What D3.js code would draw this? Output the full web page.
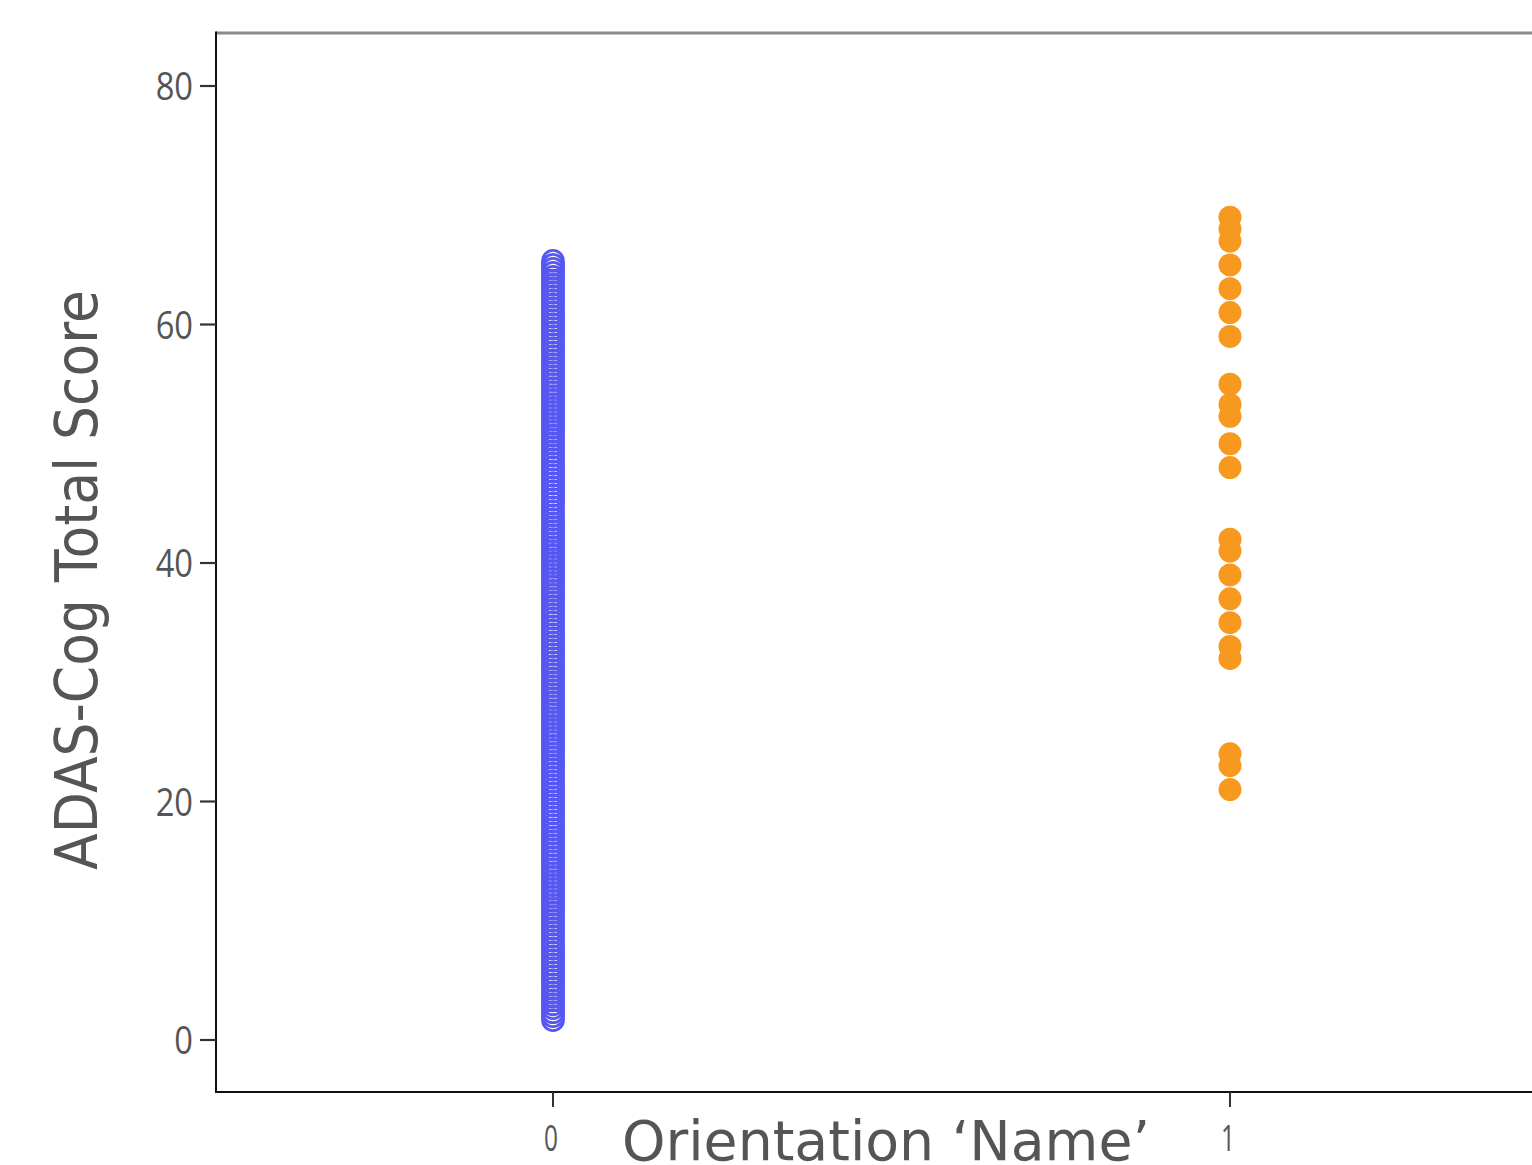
<!DOCTYPE html>
<html>
<head>
<meta charset="utf-8">
<script src="https://cdn.jsdelivr.net/npm/d3@7/dist/d3.min.js"></script>
<style>
  html, body { margin: 0; padding: 0; background: #fff; }
  svg { display: block; }
</style>
</head>
<body>
<svg id="chart" width="1532" height="1165"></svg>
<script>
// ---- data ----
const categories = [0, 1];
const xTickLabels = ["0", "1"];
const yTickValues = [0, 20, 40, 60, 80];
const yTickLabels = ["0", "20", "40", "60", "80"];
const xTitle = "Orientation \u2018Name\u2019";
const yTitle = "ADAS-Cog Total Score";

// group 0 (open circles)
const scoresGroup0 = [
  1.67,2,2.33,2.67,3,3.33,3.67,4,4.33,4.67,5,5.33,5.67,6,6.33,6.67,7,7.33,7.67,8,8.33,8.67,9,9.33,9.67,10,
  10.33,10.67,11,11.33,11.67,12,12.33,12.67,13,13.33,13.67,14,14.33,14.67,15,15.33,15.67,16,16.33,16.67,17,17.33,17.67,18,18.33,18.67,19,19.33,19.67,20,
  20.33,20.67,21,21.33,21.67,22,22.33,22.67,23,23.33,23.67,24,24.33,24.67,25,25.33,25.67,26,26.33,26.67,27,27.33,27.67,28,28.33,28.67,29,29.33,29.67,30,
  30.33,30.67,31,31.33,31.67,32,32.33,32.67,33,33.33,33.67,34,34.33,34.67,35,35.33,35.67,36,36.33,36.67,37,37.33,37.67,38,38.33,38.67,39,39.33,39.67,40,
  40.33,40.67,41,41.33,41.67,42,42.33,42.67,43,43.33,43.67,44,44.33,44.67,45,45.33,45.67,46,46.33,46.67,47,47.33,47.67,48,48.33,48.67,49,49.33,49.67,50,
  50.33,50.67,51,51.33,51.67,52,52.33,52.67,53,53.33,53.67,54,54.33,54.67,55,55.33,55.67,56,56.33,56.67,57,57.33,57.67,58,58.33,58.67,59,59.33,59.67,60,
  60.33,60.67,61,61.33,61.67,62,62.33,62.67,63,63.33,63.67,64,64.33,64.67,65,65.33
];
// group 1 (filled circles)
const scoresGroup1 = [69, 68, 67, 65, 63, 61, 59, 55, 53.3, 52.3, 50, 48, 42, 41, 39, 37, 35, 33, 32, 24, 23, 21];

// ---- layout ----
const svg = d3.select("#chart");
const frame = { left: 216, right: 1540, top: 33, bottom: 1092 };

const x = d3.scaleLinear().domain([-0.5, 1.5]).range([214.5, 1568.5]);
const y = d3.scaleLinear().domain([0, 80]).range([1040, 86]);

const textColor = "#555555";

// frame: top border (grey), left & bottom axes (black)
svg.append("line")
  .attr("x1", frame.left).attr("x2", frame.right)
  .attr("y1", frame.top).attr("y2", frame.top)
  .attr("stroke", "#8a8a8a").attr("stroke-width", 3);
svg.append("line")
  .attr("x1", frame.left).attr("x2", frame.left)
  .attr("y1", frame.top - 1.5).attr("y2", frame.bottom + 1)
  .attr("stroke", "#111").attr("stroke-width", 2);
svg.append("line")
  .attr("x1", frame.left - 1).attr("x2", frame.right)
  .attr("y1", frame.bottom).attr("y2", frame.bottom)
  .attr("stroke", "#111").attr("stroke-width", 2);

// y ticks
const yAxisG = svg.append("g");
yTickValues.forEach((v, i) => {
  yAxisG.append("line")
    .attr("x1", frame.left - 16).attr("x2", frame.left)
    .attr("y1", y(v)).attr("y2", y(v))
    .attr("stroke", "#333").attr("stroke-width", 2.2);
  yAxisG.append("text")
    .attr("transform", `translate(193,${y(v) + 14}) scale(0.86,1)`)
    .attr("text-anchor", "end")
    .attr("font-family", "'Open Sans', sans-serif")
    .attr("font-size", 38)
    .attr("fill", textColor)
    .text(yTickLabels[i]);
});

// x ticks
const xAxisG = svg.append("g");
categories.forEach((c, i) => {
  xAxisG.append("line")
    .attr("x1", x(c)).attr("x2", x(c))
    .attr("y1", frame.bottom).attr("y2", frame.bottom + 15)
    .attr("stroke", "#333").attr("stroke-width", 2);
  xAxisG.append("text")
    .attr("transform", `translate(${x(c) - 2},1151) scale(0.66,1)`)
    .attr("text-anchor", "middle")
    .attr("font-family", "'Open Sans', sans-serif")
    .attr("font-size", 37)
    .attr("fill", textColor)
    .text(xTickLabels[i]);
});

// group 0 points: open circles
svg.append("g")
  .selectAll("circle")
  .data(scoresGroup0)
  .join("circle")
  .attr("cx", x(categories[0]))
  .attr("cy", d => y(d))
  .attr("r", 10.5)
  .attr("fill", "none")
  .attr("stroke", "#5656f2")
  .attr("stroke-width", 2.8);

// group 1 points: filled circles
svg.append("g")
  .selectAll("circle")
  .data(scoresGroup1)
  .join("circle")
  .attr("cx", x(categories[1]))
  .attr("cy", d => y(d))
  .attr("r", 11.5)
  .attr("fill", "#f7991f");

// axis titles
svg.append("text")
  .attr("x", 886).attr("y", 1160)
  .attr("text-anchor", "middle")
  .attr("font-family", "'DejaVu Sans', sans-serif")
  .attr("font-size", 56)
  .attr("fill", textColor)
  .attr("textLength", 528)
  .attr("lengthAdjust", "spacingAndGlyphs")
  .text(xTitle);

svg.append("text")
  .attr("transform", "translate(97,580) rotate(-90)")
  .attr("text-anchor", "middle")
  .attr("font-family", "'DejaVu Sans', sans-serif")
  .attr("font-size", 59)
  .attr("fill", textColor)
  .attr("textLength", 580)
  .attr("lengthAdjust", "spacingAndGlyphs")
  .text(yTitle);
</script>
</body>
</html>
